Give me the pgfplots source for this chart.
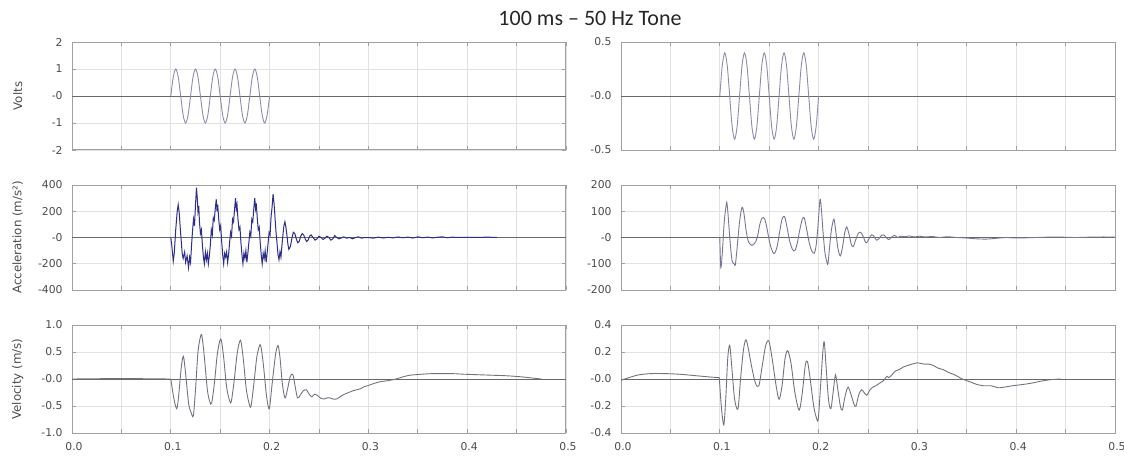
\documentclass[border=0pt]{standalone}
\usepackage{fontspec}
\setmainfont{Carlito}
\newfontfamily\dejavu{DejaVu Sans}
\usepackage{pgfplots}
\pgfplotsset{compat=1.18}

\definecolor{boxgray}{RGB}{160,160,160}
\definecolor{gridgray}{RGB}{226,226,226}
\definecolor{labgray}{RGB}{75,75,75}
\definecolor{zerogray}{RGB}{105,105,105}
\definecolor{tonecol}{RGB}{140,140,172}
\definecolor{accblue}{RGB}{45,45,140}
\definecolor{accgray}{RGB}{118,118,150}
\definecolor{velgray}{RGB}{115,115,128}

\newcommand\tickfont{\dejavu\fontsize{5.4}{6}\selectfont}

\pgfplotsset{
  panel/.style={
    scale only axis, width=247pt, anchor=north west,
    xmin=0, xmax=0.5,
    xtick={0,0.05,0.1,0.15,0.2,0.25,0.3,0.35,0.4,0.45,0.5},
    xticklabels={},
    grid=major, major grid style={gridgray, line width=0.4pt},
    axis line style={boxgray, line width=0.5pt},
    tick style={boxgray, line width=0.4pt},
    major tick length=2pt, tick align=inside,
    ticklabel style={font=\tickfont, text=labgray},
    yticklabel style={xshift=-1.2pt},
    every axis y label/.style={at={(axis description cs:-0.11,0.5)}, rotate=90,
      anchor=center, font=\dejavu\fontsize{5.9}{7}\selectfont, text=labgray},
  },
  bottomx/.style={xticklabels={0.0,,0.1,,0.2,,0.3,,0.4,,0.5},
    xticklabel style={xshift=1pt, yshift=-1pt}},
  zeroline/.style={zerogray, line width=0.45pt},
}

\begin{document}
\begin{tikzpicture}
\useasboundingbox (0,0) rectangle (562pt,-227.5pt);
\node[font=\fontsize{11}{13}\selectfont, text=black!85] at (295pt,-9pt) {100 ms – 50 Hz Tone};

% row 1: drive voltage
\begin{axis}[panel, at={(36pt,-21pt)}, height=54pt,
  ymin=-2, ymax=2, ytick={-2,-1,0,1,2}, yticklabels={-2,-1,-0,1,2},
  ylabel={Volts}]
\addplot[zeroline] coordinates {(0,0) (0.5,0)};
\addplot[tonecol, line width=0.45pt, smooth, tension=0.5] coordinates {
(0.1,0)(0.1025,0.707)(0.105,1)(0.1075,0.707)(0.11,0)(0.1125,-0.707)(0.115,-1)(0.1175,-0.707)
(0.12,0)(0.1225,0.707)(0.125,1)(0.1275,0.707)(0.13,0)(0.1325,-0.707)(0.135,-1)(0.1375,-0.707)
(0.14,0)(0.1425,0.707)(0.145,1)(0.1475,0.707)(0.15,0)(0.1525,-0.707)(0.155,-1)(0.1575,-0.707)
(0.16,0)(0.1625,0.707)(0.165,1)(0.1675,0.707)(0.17,0)(0.1725,-0.707)(0.175,-1)(0.1775,-0.707)
(0.18,0)(0.1825,0.707)(0.185,1)(0.1875,0.707)(0.19,0)(0.1925,-0.707)(0.195,-1)(0.1975,-0.707)
(0.2,0)};
\end{axis}

\begin{axis}[panel, at={(310.5pt,-21pt)}, height=54pt,
  ymin=-0.5, ymax=0.5, ytick={-0.5,0,0.5}, yticklabels={-0.5,-0.0,0.5}]
\addplot[zeroline] coordinates {(0,0) (0.5,0)};
\addplot[tonecol, line width=0.45pt, smooth, tension=0.5] coordinates {
(0.1,0)(0.1025,0.283)(0.105,0.4)(0.1075,0.283)(0.11,0)(0.1125,-0.283)(0.115,-0.4)(0.1175,-0.283)
(0.12,0)(0.1225,0.283)(0.125,0.4)(0.1275,0.283)(0.13,0)(0.1325,-0.283)(0.135,-0.4)(0.1375,-0.283)
(0.14,0)(0.1425,0.283)(0.145,0.4)(0.1475,0.283)(0.15,0)(0.1525,-0.283)(0.155,-0.4)(0.1575,-0.283)
(0.16,0)(0.1625,0.283)(0.165,0.4)(0.1675,0.283)(0.17,0)(0.1725,-0.283)(0.175,-0.4)(0.1775,-0.283)
(0.18,0)(0.1825,0.283)(0.185,0.4)(0.1875,0.283)(0.19,0)(0.1925,-0.283)(0.195,-0.4)(0.1975,-0.283)
(0.2,0)};
\end{axis}

% row 2: acceleration
\begin{axis}[panel, at={(36pt,-92.5pt)}, height=52.5pt,
  ymin=-400, ymax=400, ytick={-400,-200,0,200,400}, yticklabels={-400,-200,-0,200,400},
  ylabel={Acceleration (m/s²)}]
\addplot[zeroline] coordinates {(0,0) (0.5,0)};
\addplot[accblue, line width=0.5pt] coordinates {
(0.1,0)(0.1010,-60)(0.1025,-180)(0.1035,-120)(0.1050,60)(0.1065,200)(0.1075,250)(0.1085,190)(0.1095,80)
(0.1105,-20)(0.1115,-120)(0.1125,-160)(0.1140,-110)(0.1150,-190)(0.1165,-140)(0.1180,-230)(0.1190,-150)
(0.1200,-190)(0.1210,-60)(0.1220,50)(0.1230,140)(0.1240,90)(0.1250,250)(0.1260,380)(0.1268,300)
(0.1275,200)(0.1283,240)(0.1290,120)(0.1300,30)(0.1310,60)(0.1320,-60)(0.1330,-150)(0.1340,-200)
(0.1350,-110)(0.1360,-170)(0.1370,-120)(0.1380,-200)(0.1390,-140)(0.1400,-60)(0.1410,60)(0.1420,20)
(0.1430,150)(0.1440,130)(0.1450,220)(0.1460,290)(0.1468,200)(0.1475,250)(0.1485,140)(0.1495,60)
(0.1505,90)(0.1515,-30)(0.1525,-130)(0.1535,-200)(0.1545,-120)(0.1555,-150)(0.1565,-110)(0.1575,-190)
(0.1585,-130)(0.1595,-40)(0.1605,40)(0.1615,10)(0.1625,140)(0.1635,120)(0.1645,210)(0.1655,300)
(0.1663,220)(0.1670,250)(0.1680,140)(0.1690,60)(0.1700,80)(0.1710,-40)(0.1720,-130)(0.1730,-200)
(0.1740,-120)(0.1750,-160)(0.1760,-100)(0.1770,-190)(0.1780,-120)(0.1790,-40)(0.1800,40)(0.1810,10)
(0.1820,140)(0.1830,120)(0.1840,220)(0.1850,300)(0.1858,220)(0.1865,260)(0.1875,150)(0.1885,60)
(0.1895,80)(0.1905,-40)(0.1915,-130)(0.1925,-200)(0.1935,-120)(0.1945,-160)(0.1955,-100)(0.1965,-190)
(0.1975,-120)(0.1985,-40)(0.1995,40)(0.2005,20)(0.2015,160)(0.2025,230)(0.2035,330)(0.2045,260)
(0.2055,150)(0.2065,40)(0.2075,-40)(0.2085,-130)(0.2095,-170)(0.2105,-110)(0.2115,-150)(0.2125,-60)
(0.2135,20)(0.2145,90)(0.2155,120)(0.2165,80)(0.2175,20)(0.2185,-50)(0.2195,-90)(0.2210,-70)
(0.2225,-10)(0.2240,40)(0.2255,30)(0.2270,-10)(0.2285,-40)(0.2300,-30)(0.2315,10)(0.2330,30)
(0.2345,20)(0.2360,-10)(0.2375,-30)(0.2390,-20)(0.2405,10)(0.2420,20)(0.2440,0)(0.2460,-20)
(0.2480,-10)(0.2500,10)(0.2520,0)(0.2540,-15)(0.2560,-5)(0.2580,10)(0.2600,0)(0.2620,-20)
(0.2640,-10)(0.2660,15)(0.2680,0)(0.2700,-10)(0.2720,-5)(0.2750,5)(0.2780,-5)(0.2810,0)
(0.2840,-10)(0.2870,0)(0.2900,5)(0.2930,-5)(0.2960,0)(0.300,0)(0.305,-5)(0.310,3)(0.315,-4)
(0.320,2)(0.325,-3)(0.330,4)(0.335,-2)(0.340,3)(0.345,-4)(0.350,5)(0.355,-2)(0.360,3)(0.365,-3)
(0.370,2)(0.375,5)(0.380,-2)(0.385,3)(0.390,0)(0.400,2)(0.410,0)(0.420,3)(0.430,0)};
\end{axis}

\begin{axis}[panel, at={(310.5pt,-92.5pt)}, height=52.5pt,
  ymin=-200, ymax=200, ytick={-200,-100,0,100,200}, yticklabels={-200,-100,-0,100,200}]
\addplot[zeroline] coordinates {(0,0) (0.5,0)};
\addplot[accgray, line width=0.45pt, smooth, tension=0.5] coordinates {
(0.1,0)(0.101,-115)(0.1025,-60)(0.1045,60)(0.1065,125)(0.1073,130)(0.1085,80)(0.1105,-20)(0.1125,-90)
(0.1145,-100)(0.1157,-105)(0.1175,-40)(0.1200,60)(0.1225,115)(0.1245,90)(0.1265,30)(0.1285,-10)
(0.1305,-25)(0.1325,-30)(0.1345,-25)(0.1365,-15)(0.1385,10)(0.1405,50)(0.1430,75)(0.1455,70)
(0.1480,30)(0.1505,-20)(0.1535,-55)(0.1555,-60)(0.1580,-35)(0.1605,20)(0.1630,70)(0.1655,80)
(0.1680,40)(0.1705,-10)(0.1735,-45)(0.1760,-50)(0.1785,-20)(0.1810,30)(0.1835,70)(0.1855,75)
(0.1880,30)(0.1905,-20)(0.1930,-50)(0.1955,-60)(0.1975,-30)(0.1995,50)(0.2010,130)(0.2018,145)
(0.2030,100)(0.2045,20)(0.2065,-60)(0.2085,-95)(0.2095,-100)(0.2110,-40)(0.2130,30)(0.2155,70)
(0.2175,20)(0.2195,-40)(0.2220,-70)(0.2245,-30)(0.2265,20)(0.2285,40)(0.2310,10)(0.2330,-25)
(0.2350,-35)(0.2375,-10)(0.2400,15)(0.2424,20)(0.2450,5)(0.2470,-15)(0.2486,-20)(0.2510,-5)
(0.2535,10)(0.2560,5)(0.2585,-10)(0.2610,-5)(0.2635,8)(0.2660,10)(0.2685,0)(0.2710,-8)(0.2740,2)
(0.2770,8)(0.2800,0)(0.2830,5)(0.2870,3)(0.2920,6)(0.2970,2)(0.3020,5)(0.3080,2)(0.3150,4)
(0.3220,0)(0.3300,3)(0.3400,0)(0.3500,-2)(0.3600,-5)(0.3700,-6)(0.3800,-3)(0.3900,0)(0.4000,-2)
(0.4200,0)(0.4400,2)(0.4600,0)(0.4800,2)(0.5000,2)};
\end{axis}

% row 3: velocity
\begin{axis}[panel, bottomx, at={(36pt,-162.5pt)}, height=54pt,
  ymin=-1, ymax=1, ytick={-1,-0.5,0,0.5,1}, yticklabels={-1.0,-0.5,-0.0,0.5,1.0},
  ylabel={Velocity (m/s)}]
\addplot[zeroline] coordinates {(0,0) (0.5,0)};
\addplot[velgray, line width=0.45pt] coordinates {(0,0)(0.05,0.01)(0.1,0)};
\addplot[velgray, line width=0.45pt, smooth, tension=0.5] coordinates {
(0.1,0)(0.103,-0.35)(0.106,-0.55)(0.108,-0.3)(0.1105,0.2)(0.1127,0.42)(0.1150,0.1)(0.1180,-0.45)
(0.1205,-0.62)(0.1228,-0.68)(0.1250,-0.2)(0.1275,0.5)(0.1300,0.78)(0.1315,0.8)(0.1340,0.4)
(0.1370,-0.2)(0.1395,-0.42)(0.1413,-0.45)(0.1440,-0.1)(0.1470,0.45)(0.1495,0.7)(0.1511,0.72)
(0.1535,0.4)(0.1565,-0.15)(0.1595,-0.4)(0.1612,-0.42)(0.1640,-0.05)(0.1670,0.45)(0.1695,0.68)
(0.1710,0.7)(0.1735,0.35)(0.1765,-0.2)(0.1795,-0.47)(0.1812,-0.5)(0.1840,-0.1)(0.1870,0.4)
(0.1895,0.6)(0.1910,0.62)(0.1935,0.3)(0.1965,-0.25)(0.1985,-0.5)(0.2000,-0.53)(0.2025,-0.1)
(0.2060,0.45)(0.2085,0.62)(0.2105,0.4)(0.2130,-0.1)(0.2156,-0.35)(0.2180,-0.2)(0.2210,0.05)
(0.2236,0.08)(0.2260,-0.15)(0.2283,-0.35)(0.2310,-0.3)(0.2340,-0.22)(0.2373,-0.2)(0.2400,-0.28)
(0.2428,-0.33)(0.2455,-0.28)(0.2482,-0.3)(0.2520,-0.36)(0.2554,-0.37)(0.2580,-0.35)(0.2609,-0.35)
(0.2640,-0.37)(0.2680,-0.37)(0.2720,-0.32)(0.2760,-0.28)(0.2800,-0.25)(0.2840,-0.22)(0.2880,-0.2)
(0.2920,-0.18)(0.2960,-0.14)(0.3000,-0.12)(0.3060,-0.08)(0.3120,-0.05)(0.3200,-0.03)(0.3280,0.0)
(0.3350,0.04)(0.3420,0.07)(0.3480,0.08)(0.3550,0.09)(0.3650,0.1)(0.3750,0.1)(0.3850,0.1)
(0.3950,0.09)(0.4100,0.08)(0.4250,0.07)(0.4400,0.06)(0.4550,0.04)(0.4650,0.02)(0.4750,0.0)};
\end{axis}

\begin{axis}[panel, bottomx, at={(310.5pt,-162.5pt)}, height=54pt,
  ymin=-0.4, ymax=0.4, ytick={-0.4,-0.2,0,0.2,0.4}, yticklabels={-0.4,-0.2,-0.0,0.2,0.4},
  xticklabel style={xshift=0pt}]
\addplot[zeroline] coordinates {(0,0) (0.5,0)};
\addplot[velgray, line width=0.45pt, smooth, tension=0.5] coordinates {
(0,-0.01)(0.008,0.01)(0.0175,0.03)(0.03,0.04)(0.045,0.04)(0.06,0.035)(0.075,0.025)(0.09,0.015)(0.0995,0.01)};
\addplot[velgray, line width=0.45pt, smooth, tension=0.5] coordinates {
(0.0995,0.01)(0.1015,-0.2)(0.1040,-0.34)(0.1060,-0.15)(0.1080,0.15)(0.1100,0.25)(0.1120,0.1)
(0.1150,-0.15)(0.1184,-0.22)(0.1210,0.0)(0.1240,0.22)(0.1265,0.29)(0.1290,0.22)(0.1320,0.1)
(0.1360,-0.03)(0.1395,-0.05)(0.1430,0.1)(0.1465,0.25)(0.1497,0.28)(0.1530,0.15)(0.1570,-0.05)
(0.1600,-0.15)(0.1630,-0.05)(0.1660,0.15)(0.1687,0.21)(0.1720,0.12)(0.1760,-0.1)(0.1803,-0.23)
(0.1835,-0.1)(0.1865,0.1)(0.1887,0.13)(0.1915,0.0)(0.1950,-0.2)(0.1975,-0.28)(0.1996,-0.3)
(0.2020,-0.05)(0.2045,0.22)(0.2058,0.27)(0.2075,0.1)(0.2100,-0.15)(0.2124,-0.22)(0.2150,-0.08)
(0.2171,0.03)(0.2195,-0.08)(0.2220,-0.2)(0.2240,-0.23)(0.2270,-0.12)(0.2299,-0.06)(0.2330,-0.12)
(0.2360,-0.19)(0.2379,-0.2)(0.2405,-0.12)(0.2434,-0.08)(0.2460,-0.1)(0.2488,-0.12)(0.2520,-0.08)
(0.2550,-0.06)(0.2580,-0.05)(0.2620,-0.03)(0.2660,-0.01)(0.2690,0.02)(0.2710,0.01)(0.2740,0.03)
(0.2780,0.06)(0.2816,0.07)(0.2860,0.09)(0.2900,0.1)(0.2944,0.11)(0.3000,0.12)(0.3035,0.115)
(0.3080,0.11)(0.3120,0.11)(0.3162,0.1)(0.3210,0.08)(0.3260,0.07)(0.3310,0.05)(0.3380,0.03)
(0.3454,0.0)(0.3530,-0.02)(0.3600,-0.04)(0.3670,-0.05)(0.3745,-0.05)(0.3818,-0.065)(0.3880,-0.06)
(0.3964,-0.05)(0.4073,-0.04)(0.4160,-0.03)(0.4255,-0.015)(0.4350,-0.005)(0.4450,0.0)};
\end{axis}
\end{tikzpicture}
\end{document}
